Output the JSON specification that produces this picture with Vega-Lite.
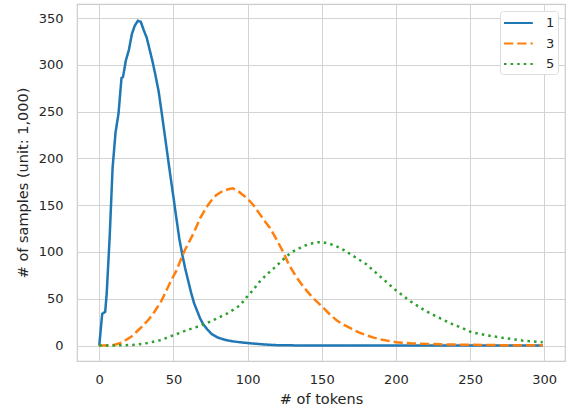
{
  "$schema": "https://vega.github.io/schema/vega-lite/v6.json",
  "autosize": {"type": "none"},
  "width": 488,
  "height": 357,
  "padding": {"left": 77, "top": 4, "right": 7, "bottom": 49},
  "background": "white",
  "config": {
    "font": "DejaVu Sans",
    "view": {"stroke": "#cccccc", "strokeWidth": 1.2},
    "axis": {
      "domain": false,
      "ticks": false,
      "grid": true,
      "gridColor": "#d3d3d3",
      "gridWidth": 1,
      "labelFont": "DejaVu Sans",
      "labelFontSize": 13,
      "labelColor": "#262626",
      "titleFont": "DejaVu Sans",
      "titleFontSize": 14.5,
      "titleFontWeight": "normal",
      "titleColor": "#262626"
    },
    "legend": {
      "title": null,
      "orient": "top-right",
      "offset": 7,
      "symbolType": "M-1,0H2.6",
      "symbolSize": 256,
      "symbolStrokeWidth": 2,
      "labelFontSize": 13,
      "labelColor": "#262626",
      "labelOffset": 25,
      "padding": 3,
      "rowPadding": 4.5,
      "fillColor": "white",
      "strokeColor": "#dddddd",
      "cornerRadius": 3
    }
  },
  "data": {"values": [
    {"s":"1","x":0,"y":0},{"s":"1","x":2,"y":34},{"s":"1","x":4,"y":36},{"s":"1","x":5,"y":55},{"s":"1","x":7,"y":115},{"s":"1","x":9,"y":190},{"s":"1","x":11,"y":228},{"s":"1","x":13,"y":248},{"s":"1","x":15,"y":286},{"s":"1","x":16,"y":287},{"s":"1","x":18,"y":305},{"s":"1","x":20,"y":316},{"s":"1","x":22,"y":333},{"s":"1","x":24,"y":342},{"s":"1","x":26,"y":347},{"s":"1","x":28,"y":346},{"s":"1","x":30,"y":337},{"s":"1","x":32,"y":329},{"s":"1","x":34,"y":316},{"s":"1","x":36,"y":303},{"s":"1","x":38,"y":288},{"s":"1","x":40,"y":272},{"s":"1","x":42,"y":250},{"s":"1","x":44,"y":227},{"s":"1","x":46,"y":204},{"s":"1","x":48,"y":181},{"s":"1","x":50,"y":159},{"s":"1","x":52,"y":136},{"s":"1","x":54,"y":114},{"s":"1","x":56,"y":97},{"s":"1","x":58,"y":82},{"s":"1","x":60,"y":69},{"s":"1","x":62,"y":56},{"s":"1","x":64,"y":45},{"s":"1","x":66,"y":37},{"s":"1","x":68,"y":29},{"s":"1","x":70,"y":23},{"s":"1","x":73,"y":17},{"s":"1","x":76,"y":12},{"s":"1","x":80,"y":8.5},{"s":"1","x":85,"y":6},{"s":"1","x":90,"y":4.5},{"s":"1","x":95,"y":3.5},{"s":"1","x":100,"y":2.7},{"s":"1","x":105,"y":2},{"s":"1","x":110,"y":1.3},{"s":"1","x":115,"y":0.8},{"s":"1","x":120,"y":0.4},{"s":"1","x":130,"y":0.2},{"s":"1","x":150,"y":0.1},{"s":"1","x":200,"y":0.05},{"s":"1","x":250,"y":0},{"s":"1","x":299,"y":0},
    {"s":"3","x":0,"y":0},{"s":"3","x":5,"y":0.2},{"s":"3","x":10,"y":0.6},{"s":"3","x":15,"y":3},{"s":"3","x":18,"y":6},{"s":"3","x":22,"y":10},{"s":"3","x":25,"y":14.5},{"s":"3","x":28,"y":19},{"s":"3","x":32,"y":25.5},{"s":"3","x":35,"y":31},{"s":"3","x":38,"y":38},{"s":"3","x":42,"y":48},{"s":"3","x":45,"y":58},{"s":"3","x":48,"y":68},{"s":"3","x":52,"y":80},{"s":"3","x":55,"y":92},{"s":"3","x":58,"y":103},{"s":"3","x":62,"y":115},{"s":"3","x":65,"y":125},{"s":"3","x":68,"y":136},{"s":"3","x":72,"y":147},{"s":"3","x":75,"y":154},{"s":"3","x":79,"y":161},{"s":"3","x":83,"y":165},{"s":"3","x":87,"y":167},{"s":"3","x":90,"y":168},{"s":"3","x":93,"y":166},{"s":"3","x":96,"y":162},{"s":"3","x":100,"y":157},{"s":"3","x":104,"y":150},{"s":"3","x":108,"y":141},{"s":"3","x":112,"y":132},{"s":"3","x":115,"y":126},{"s":"3","x":120,"y":112},{"s":"3","x":124,"y":100},{"s":"3","x":128,"y":86},{"s":"3","x":133,"y":73},{"s":"3","x":138,"y":62},{"s":"3","x":144,"y":51},{"s":"3","x":150,"y":42},{"s":"3","x":155,"y":34},{"s":"3","x":160,"y":27},{"s":"3","x":165,"y":22},{"s":"3","x":170,"y":18},{"s":"3","x":175,"y":14},{"s":"3","x":180,"y":11},{"s":"3","x":185,"y":8.5},{"s":"3","x":190,"y":6.5},{"s":"3","x":195,"y":5},{"s":"3","x":200,"y":3.6},{"s":"3","x":210,"y":2.5},{"s":"3","x":220,"y":1.8},{"s":"3","x":230,"y":1.3},{"s":"3","x":240,"y":1},{"s":"3","x":260,"y":0.6},{"s":"3","x":280,"y":0.3},{"s":"3","x":299,"y":0.2},
    {"s":"5","x":0,"y":0},{"s":"5","x":10,"y":0.1},{"s":"5","x":20,"y":0.5},{"s":"5","x":25,"y":1},{"s":"5","x":30,"y":2},{"s":"5","x":35,"y":3.5},{"s":"5","x":41,"y":5.7},{"s":"5","x":45,"y":8},{"s":"5","x":50,"y":11},{"s":"5","x":55,"y":14},{"s":"5","x":59,"y":16.5},{"s":"5","x":65,"y":19.5},{"s":"5","x":72,"y":23.5},{"s":"5","x":78,"y":28},{"s":"5","x":86,"y":34},{"s":"5","x":92,"y":40},{"s":"5","x":95,"y":43},{"s":"5","x":99,"y":51},{"s":"5","x":104,"y":60},{"s":"5","x":108,"y":68},{"s":"5","x":113,"y":76},{"s":"5","x":118,"y":83},{"s":"5","x":122,"y":89},{"s":"5","x":126,"y":95},{"s":"5","x":130,"y":100},{"s":"5","x":135,"y":104},{"s":"5","x":139,"y":107},{"s":"5","x":145,"y":110},{"s":"5","x":150,"y":110.7},{"s":"5","x":155,"y":109},{"s":"5","x":160,"y":106},{"s":"5","x":165,"y":102},{"s":"5","x":170,"y":97},{"s":"5","x":175,"y":92},{"s":"5","x":180,"y":87},{"s":"5","x":185,"y":80},{"s":"5","x":190,"y":73},{"s":"5","x":195,"y":66},{"s":"5","x":200,"y":59},{"s":"5","x":205,"y":53},{"s":"5","x":210,"y":47},{"s":"5","x":215,"y":42},{"s":"5","x":220,"y":37},{"s":"5","x":225,"y":33},{"s":"5","x":230,"y":29},{"s":"5","x":238,"y":23},{"s":"5","x":245,"y":18.5},{"s":"5","x":251,"y":14.3},{"s":"5","x":258,"y":12},{"s":"5","x":265,"y":10},{"s":"5","x":270,"y":8.7},{"s":"5","x":278,"y":7},{"s":"5","x":285,"y":5.4},{"s":"5","x":292,"y":4.4},{"s":"5","x":299,"y":3.6}
  ]},
  "mark": {"type": "line", "strokeWidth": 2.5, "strokeCap": "butt"},
  "encoding": {
    "x": {
      "field": "x", "type": "quantitative",
      "scale": {"domain": [-15, 314], "nice": false, "zero": false},
      "axis": {"title": "# of tokens", "values": [0, 50, 100, 150, 200, 250, 300], "labelPadding": 12, "titlePadding": 6}
    },
    "y": {
      "field": "y", "type": "quantitative",
      "scale": {"domain": [-16.5, 365], "nice": false, "zero": false},
      "axis": {"title": "# of samples (unit: 1,000)", "values": [0, 50, 100, 150, 200, 250, 300, 350], "labelPadding": 14, "titlePadding": 8}
    },
    "color": {
      "field": "s", "type": "nominal",
      "scale": {"domain": ["1", "3", "5"], "range": ["#1f77b4", "#ff7f0e", "#2ca02c"]}
    },
    "strokeDash": {
      "field": "s", "type": "nominal",
      "scale": {"domain": ["1", "3", "5"], "range": [[1, 0], [9.25, 4], [2.5, 4.1]]}
    }
  }
}
